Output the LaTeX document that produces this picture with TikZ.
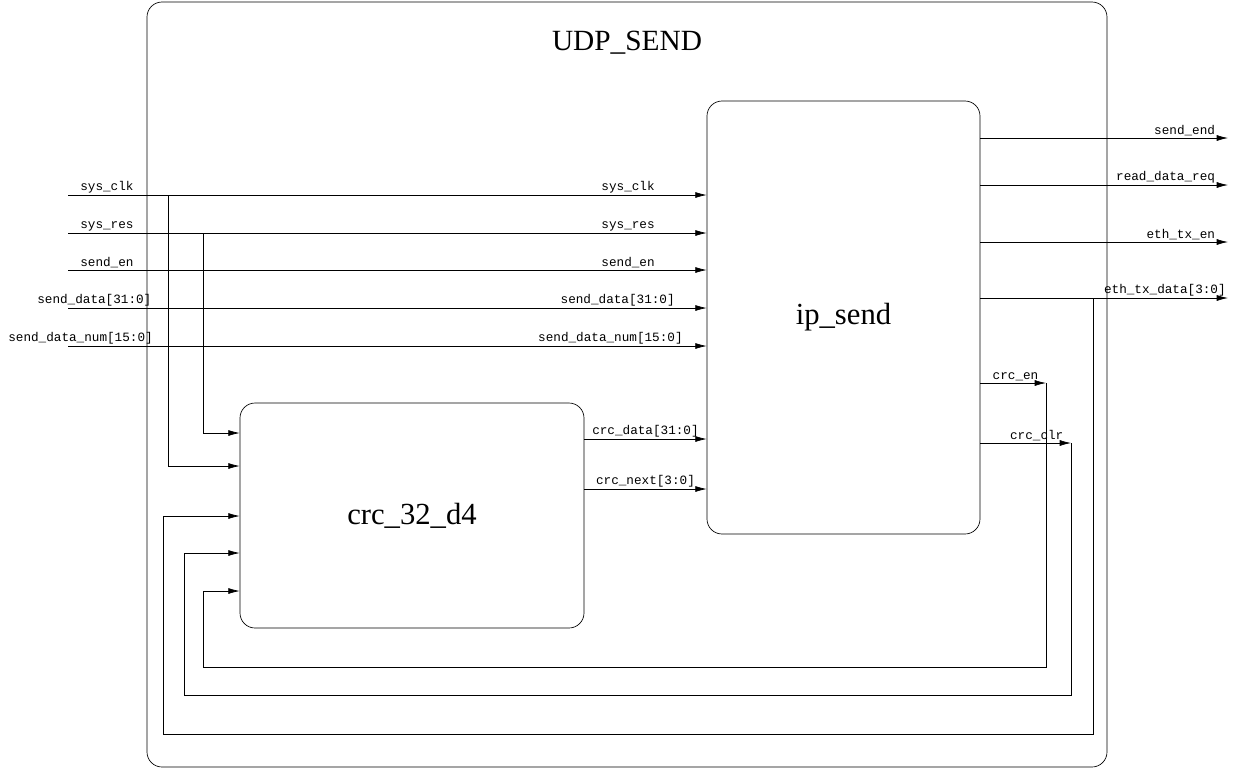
\documentclass[tikz,border=0pt]{standalone}
\usepackage{fontspec}
\setmainfont{Liberation Serif}
\setmonofont{Liberation Mono}
\usetikzlibrary{arrows.meta,positioning,calc}
\tikzstyle{block}=[draw, rounded corners=15*0.75pt, inner sep=0pt]
\tikzstyle{arrow}=[-{Latex[length=8.5pt,width=4.5pt]}]
\tikzstyle{lbl}=[font=\ttfamily\fontsize{9.5}{10}\selectfont, inner sep=1.5pt]
\begin{document}
\begin{tikzpicture}[x=0.75pt,y=-0.75pt,line width=0.5pt]
\useasboundingbox (0,0) rectangle (1236,769);
\node (top) [block,minimum width=960*0.75pt,minimum height=765*0.75pt] at (627,384.5) {};
\node (title) [font=\fontsize{22}{24}\selectfont] at (627,43) {UDP\_SEND};
\node (ip) [block,minimum width=273*0.75pt,minimum height=433*0.75pt,font=\fontsize{23}{25}\selectfont] at (843.5,317.5) {ip\_send};
\node (crc) [block,minimum width=344*0.75pt,minimum height=225*0.75pt,font=\fontsize{23}{25}\selectfont] at (412,515.5) {crc\_32\_d4};

% inputs
\coordinate (clk) at (68,195);
\coordinate (res) at (68,233);
\coordinate (en) at (68,270);
\coordinate (data) at (68,308);
\coordinate (num) at (68,346);
\draw[arrow] (clk) -- (clk-|ip.west);
\draw[arrow] (res) -- (res-|ip.west);
\draw[arrow] (en) -- (en-|ip.west);
\draw[arrow] (data) -- (data-|ip.west);
\draw[arrow] (num) -- (num-|ip.west);
\node[lbl,anchor=south west] at (78,195) {sys\_clk};
\node[lbl,anchor=south west] at (78,233) {sys\_res};
\node[lbl,anchor=south west] at (78,270) {send\_en};
\node[lbl,anchor=south west] at (35,308) {send\_data[31:0]};
\node[lbl,anchor=south west] at (6,346) {send\_data\_num[15:0]};
\node[lbl,anchor=south east] at (657,195) {sys\_clk};
\node[lbl,anchor=south east] at (657,233) {sys\_res};
\node[lbl,anchor=south east] at (657,270) {send\_en};
\node[lbl,anchor=south east] at (677,308) {send\_data[31:0]};
\node[lbl,anchor=south east] at (685,346) {send\_data\_num[15:0]};

% clock and reset into crc
\draw[arrow] (168,195) |- (crc.west|-0,466);
\draw[arrow] (203,233) |- (crc.west|-0,433);

% crc to ip
\draw[arrow] (crc.east|-0,439) -- node[lbl,above]{crc\_data[31:0]} (ip.west|-0,439);
\draw[arrow] (crc.east|-0,489) -- node[lbl,above]{crc\_next[3:0]} (ip.west|-0,489);

% outputs
\coordinate (sendend) at (1228,138);
\coordinate (req) at (1228,185);
\coordinate (txen) at (1228,242);
\coordinate (txdata) at (1228,298);
\draw[arrow] (ip.east|-sendend) -- (sendend) node[lbl,above left,xshift=-8pt]{send\_end};
\draw[arrow] (ip.east|-req) -- (req) node[lbl,above left,xshift=-8pt]{read\_data\_req};
\draw[arrow] (ip.east|-txen) -- (txen) node[lbl,above left,xshift=-8pt]{eth\_tx\_en};
\draw[arrow] (ip.east|-txdata) -- (txdata) node[lbl,above left]{eth\_tx\_data[3:0]};

% feedback
\coordinate (crcen) at (1046,383);
\coordinate (crcclr) at (1071,443);
\draw[arrow] (ip.east|-crcen) -- (crcen) node[lbl,above left,xshift=-4pt]{crc\_en};
\draw[arrow] (ip.east|-crcclr) -- (crcclr) node[lbl,above left,xshift=-4pt]{crc\_clr};
\draw[arrow] (crcen) -- (1046,667) -| (203,591) -- (crc.west|-0,591);
\draw[arrow] (crcclr) -- (1071,695) -| (184,553) -- (crc.west|-0,553);
\draw[arrow] (1093,298) -- (1093,734) -| (163,516) -- (crc.west|-0,516);
\end{tikzpicture}
\end{document}
